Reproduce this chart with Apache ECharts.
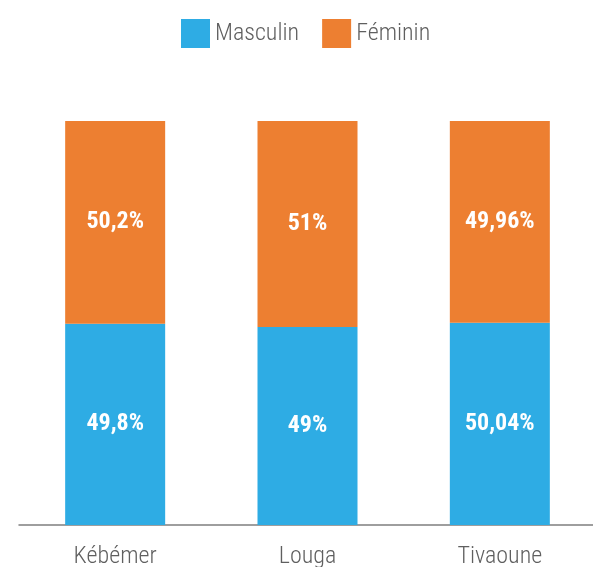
<!DOCTYPE html>
<html>
<head>
<meta charset="utf-8">
<script src="https://cdn.jsdelivr.net/npm/echarts@6/dist/echarts.min.js"></script>
<style>html,body{margin:0;padding:0;background:#fff}#c{width:593px;height:567px}</style>
</head>
<body>
<div id="c"></div>
<script>
var categories = ['Kébémer', 'Louga', 'Tivaoune'];
var masculin = [49.8, 49, 50.04];
var feminin = [50.2, 51, 49.96];
var seriesNames = ['Masculin', 'Féminin'];

function fmt(v) { return String(v).replace('.', ',') + '%'; }

var font = '"Liberation Sans Narrow", "Roboto Condensed", "DejaVu Sans Condensed", sans-serif';
var labelStyle = {
  show: true, position: 'inside', color: '#ffffff', fontFamily: font,
  fontWeight: 'bold', fontSize: 24,
  formatter: function (p) { return fmt(p.value); }
};
var chart = echarts.init(document.getElementById('c'));
chart.setOption({
  animation: false,
  legend: {
    top: 14, left: 176, itemWidth: 29, itemHeight: 29, itemGap: 23,
    icon: 'rect',
    textStyle: { fontFamily: font, fontSize: 24, fontWeight: 300, color: '#5f5f5f' },
    data: seriesNames
  },
  grid: { left: 19, width: 577, top: 121, bottom: 42, outerBoundsMode: 'none', containLabel: false },
  xAxis: {
    type: 'category', data: categories,
    axisLine: { lineStyle: { color: '#7f7f7f', width: 1.5 } },
    axisTick: { show: false },
    axisLabel: { fontFamily: font, fontSize: 24, fontWeight: 300, color: '#5f5f5f', margin: 20 }
  },
  yAxis: { type: 'value', min: 0, max: 100, show: false, splitLine: { show: false } },
  series: [
    { name: seriesNames[0], type: 'bar', stack: 't', data: masculin, barWidth: 100,
      itemStyle: { color: '#2EACE4' }, label: labelStyle },
    { name: seriesNames[1], type: 'bar', stack: 't', data: feminin, barWidth: 100,
      itemStyle: { color: '#ED7F31' }, label: labelStyle }
  ]
});
</script>
</body>
</html>
